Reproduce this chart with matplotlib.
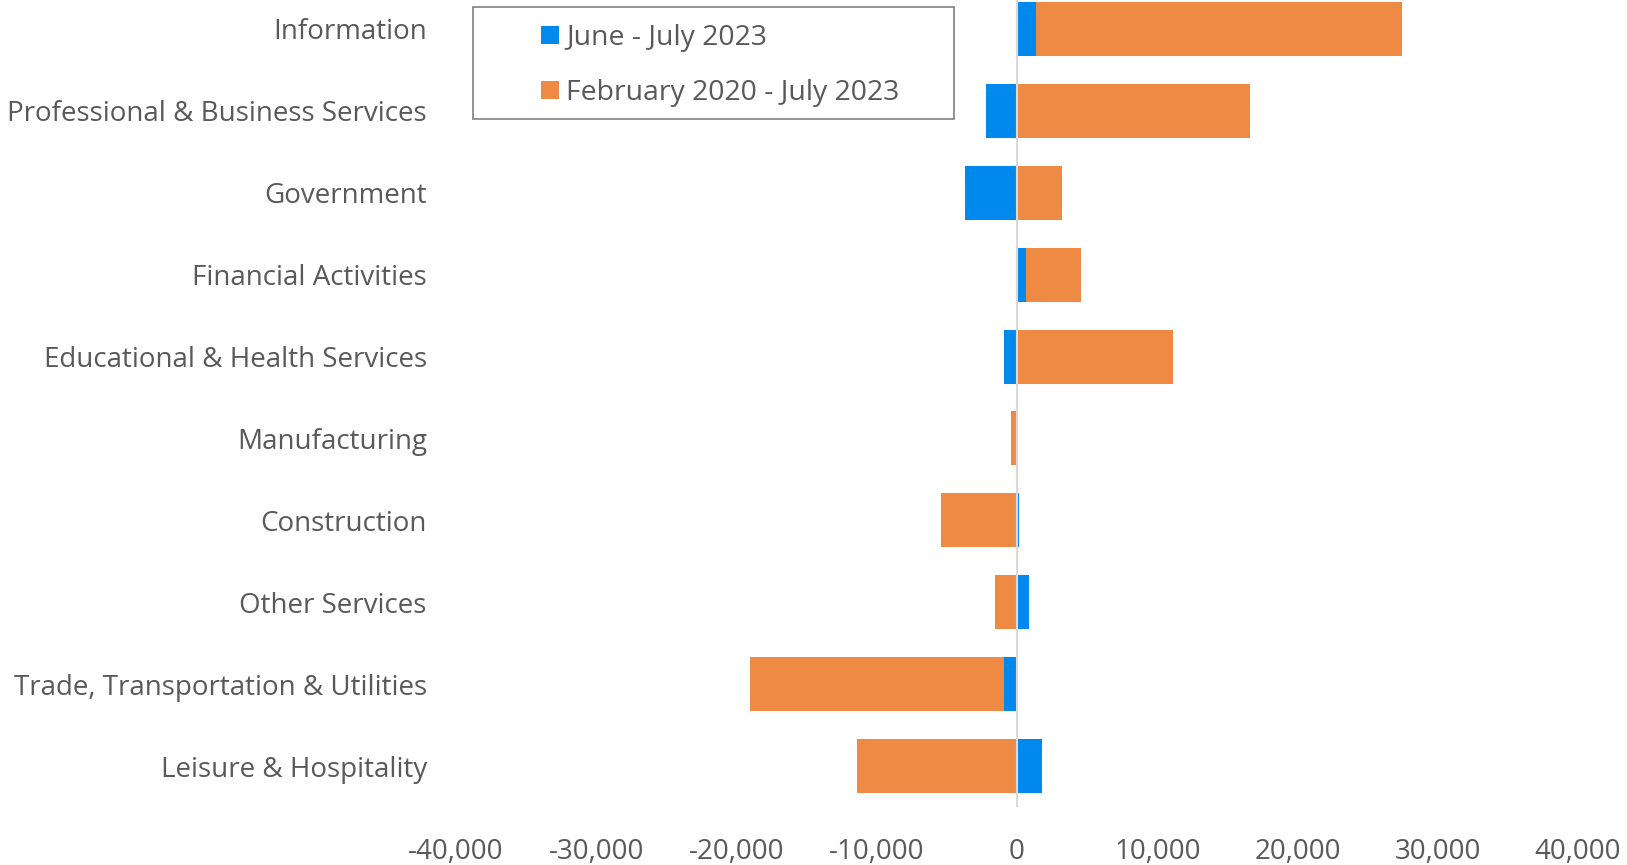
import matplotlib.pyplot as plt
from matplotlib.patches import Rectangle
import numpy as np

plt.rcParams['font.family'] = ['Open Sans', 'DejaVu Sans']

sectors = ["Information", "Professional & Business Services", "Government",
           "Financial Activities", "Educational & Health Services", "Manufacturing",
           "Construction", "Other Services", "Trade, Transportation & Utilities",
           "Leisure & Hospitality"]

# change in employment, June - July 2023
recent = [1360, -2200, -3730, 610, -915, 0, 150, 890, -915, 1770]
# change in employment, February 2020 - July 2023
since_2020 = [26070, 16600, 3200, 3970, 11100, -415, -5440, -1535, -18115, -11410]

xticks = np.arange(-40000, 40001, 10000)

blue = '#0089ec'
orange = '#ef8a45'
grey_text = '#595959'

W, H = 1627, 865
fig = plt.figure(figsize=(W / 100, H / 100), dpi=100)
ax = fig.add_axes([456 / W, 1 - 807 / H, (1578 - 456) / W, (807 + 12) / H])

y = np.arange(len(sectors))
r = np.array(recent, dtype=float)
s = np.array(since_2020, dtype=float)
# stack like Excel: same-sign values continue from the first bar, others start at zero
left = np.where(np.sign(r) == np.sign(s), r, 0)

bh = 0.66
b1 = ax.barh(y, r, height=bh, color=blue, label='June - July 2023', zorder=2)
b2 = ax.barh(y, s, left=left, height=bh, color=orange,
             label='February 2020 - July 2023', zorder=2)

ax.axvline(0, color='#d9d9d9', lw=1.5, zorder=3)

ax.set_xlim(-40000, 40000)
ax.set_ylim(len(sectors) - 0.5, -0.5)
ax.set_xticks(xticks)
ax.set_xticklabels([f"{v:,}" for v in xticks])
ax.set_yticks(y)
ax.set_yticklabels(sectors)
ax.tick_params(axis='both', length=0, labelsize=20, labelcolor=grey_text)
ax.tick_params(axis='x', pad=22.5)
ax.tick_params(axis='y', pad=21)
for sp in ax.spines.values():
    sp.set_visible(False)

# legend box
fig.patches.append(Rectangle((473 / W, 1 - 119 / H), (954 - 473) / W, 112 / H,
                             transform=fig.transFigure, fill=False,
                             edgecolor='#808080', lw=1.2))
fs = 28.0
fig.legend(handles=[b1, b2], loc='upper left', bbox_to_anchor=(541 / W, 1 - 24 / H),
           frameon=False, fontsize=20.4, labelcolor=grey_text, borderpad=0,
           borderaxespad=0, handlelength=18 / fs, handleheight=17 / fs,
           handletextpad=7 / fs, labelspacing=27 / fs)

fig.savefig('out.png', dpi=100)
